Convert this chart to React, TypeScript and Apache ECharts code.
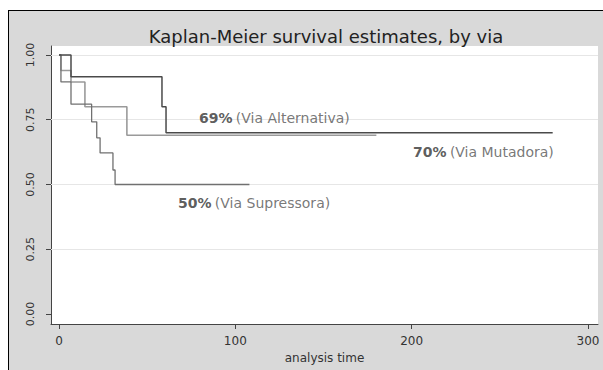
import React, { useEffect, useRef } from "react";
import * as echarts from "echarts";

// Kaplan-Meier step data (time, survival)
const altTimes = [0, 1.1, 6.8, 14.7, 38.5, 180];
const altSurv = [1, 0.94, 0.896, 0.8, 0.69, 0.69];

const supTimes = [0, 1.1, 6.8, 18.5, 21.4, 23.3, 30.6, 31.8, 108];
const supSurv = [1, 0.896, 0.81, 0.742, 0.68, 0.622, 0.556, 0.5, 0.5];

const mutTimes = [0, 6.8, 58.4, 60.7, 280];
const mutSurv = [1, 0.916, 0.8, 0.7, 0.7];

const xTicks = [0, 100, 200, 300];
const yTicks = [0, 0.25, 0.5, 0.75, 1];
const yGrid = [0.25, 0.5, 0.75, 1];

const annPct = ["69%", "70%", "50%"];
const annName = ["(Via Alternativa)", "(Via Mutadora)", "(Via Supressora)"];
// label anchors in data space
const annX = [79.4, 200.8, 67.5];
const annY = [0.757, 0.625, 0.429];

const FONT = "DejaVu Sans";

function zip(t: number[], s: number[]) {
  return t.map((v, i) => [v, s[i]]);
}

export default function App() {
  const ref = useRef<HTMLDivElement>(null);
  useEffect(() => {
    if (!ref.current) return;
    const chart = echarts.init(ref.current, null, { renderer: "svg" });
    chart.setOption({
      animation: false,
      title: {
        text: "Kaplan-Meier survival estimates, by via",
        left: 321,
        top: 22,
        textAlign: "center",
        textStyle: { fontFamily: FONT, fontSize: 18, fontWeight: "normal", color: "#222" },
      },
      grid: {
        left: 51,
        right: 5,
        top: 46,
        bottom: 46,
        show: true,
        backgroundColor: "#fff",
        borderWidth: 0,
      },
      xAxis: {
        type: "value",
        min: -4.54,
        max: 305.7,
        name: "analysis time",
        nameLocation: "middle",
        nameGap: 27,
        nameTextStyle: { fontFamily: FONT, fontSize: 12, color: "#333" },
        axisLine: { show: true, onZero: false, lineStyle: { color: "#444", width: 1 } },
        axisTick: { show: true, length: 5, customValues: xTicks, lineStyle: { color: "#444" } },
        axisLabel: {
          customValues: xTicks,
          margin: 11,
          fontFamily: FONT,
          fontSize: 12,
          color: "#333",
        },
        splitLine: { show: false },
      },
      yAxis: {
        type: "value",
        min: -0.0386,
        max: 1.0347,
        axisLine: { show: true, onZero: false, lineStyle: { color: "#444", width: 1 } },
        axisTick: { show: true, length: 5, customValues: yTicks, lineStyle: { color: "#444" } },
        axisLabel: {
          customValues: yTicks,
          rotate: 90,
          margin: 15,
          fontFamily: FONT,
          fontSize: 11,
          color: "#333",
          formatter: (v: number) => v.toFixed(2),
        },
        splitLine: { show: false },
      },
      series: [
        {
          type: "line",
          name: "Via Alternativa",
          step: "end",
          data: zip(altTimes, altSurv),
          showSymbol: false,
          symbol: "none",
          lineStyle: { color: "#9a9a9a", width: 1.6 },
          z: 3,
          markLine: {
            silent: true,
            symbol: "none",
            label: { show: false },
            lineStyle: { color: "#e6e6e6", width: 1, type: "solid" },
            data: yGrid.map((y) => ({ yAxis: y })),
            z: 1,
          },
        },
        {
          type: "line",
          name: "Via Supressora",
          step: "end",
          data: zip(supTimes, supSurv),
          symbol: "none",
          lineStyle: { color: "#707070", width: 1.3 },
          z: 4,
        },
        {
          type: "line",
          name: "Via Mutadora",
          step: "end",
          data: zip(mutTimes, mutSurv),
          symbol: "none",
          lineStyle: { color: "#4a4a4a", width: 1.5 },
          z: 5,
        },
        {
          type: "scatter",
          symbolSize: 0,
          silent: true,
          z: 6,
          data: annX.map((x, i) => ({ value: [x, annY[i]], name: String(i) })),
          label: {
            show: true,
            position: "right",
            distance: 0,
            formatter: (p: any) => {
              const i = Number(p.name);
              return `{b|${annPct[i]}} {n|${annName[i]}}`;
            },
            rich: {
              b: { fontFamily: FONT, fontSize: 14, fontWeight: "bold", color: "#333" },
              n: { fontFamily: FONT, fontSize: 14, color: "#555" },
            },
          },
        },
      ],
    });
    return () => chart.dispose();
  }, []);
  return (
    <div
      style={{
        position: "fixed",
        left: 0,
        top: 0,
        width: 603,
        height: 370,
        background: "#fff",
        overflow: "hidden",
      }}
    >
      <div
        style={{
          position: "absolute",
          left: 8,
          top: 10,
          width: 640,
          height: 420,
          background: "#d9d9d9",
          borderTop: "1px solid #000",
          borderLeft: "1px solid #000",
          boxSizing: "border-box",
        }}
      />
      <div ref={ref} style={{ position: "absolute", left: 0, top: 0, width: 603, height: 370 }} />
    </div>
  );
}
